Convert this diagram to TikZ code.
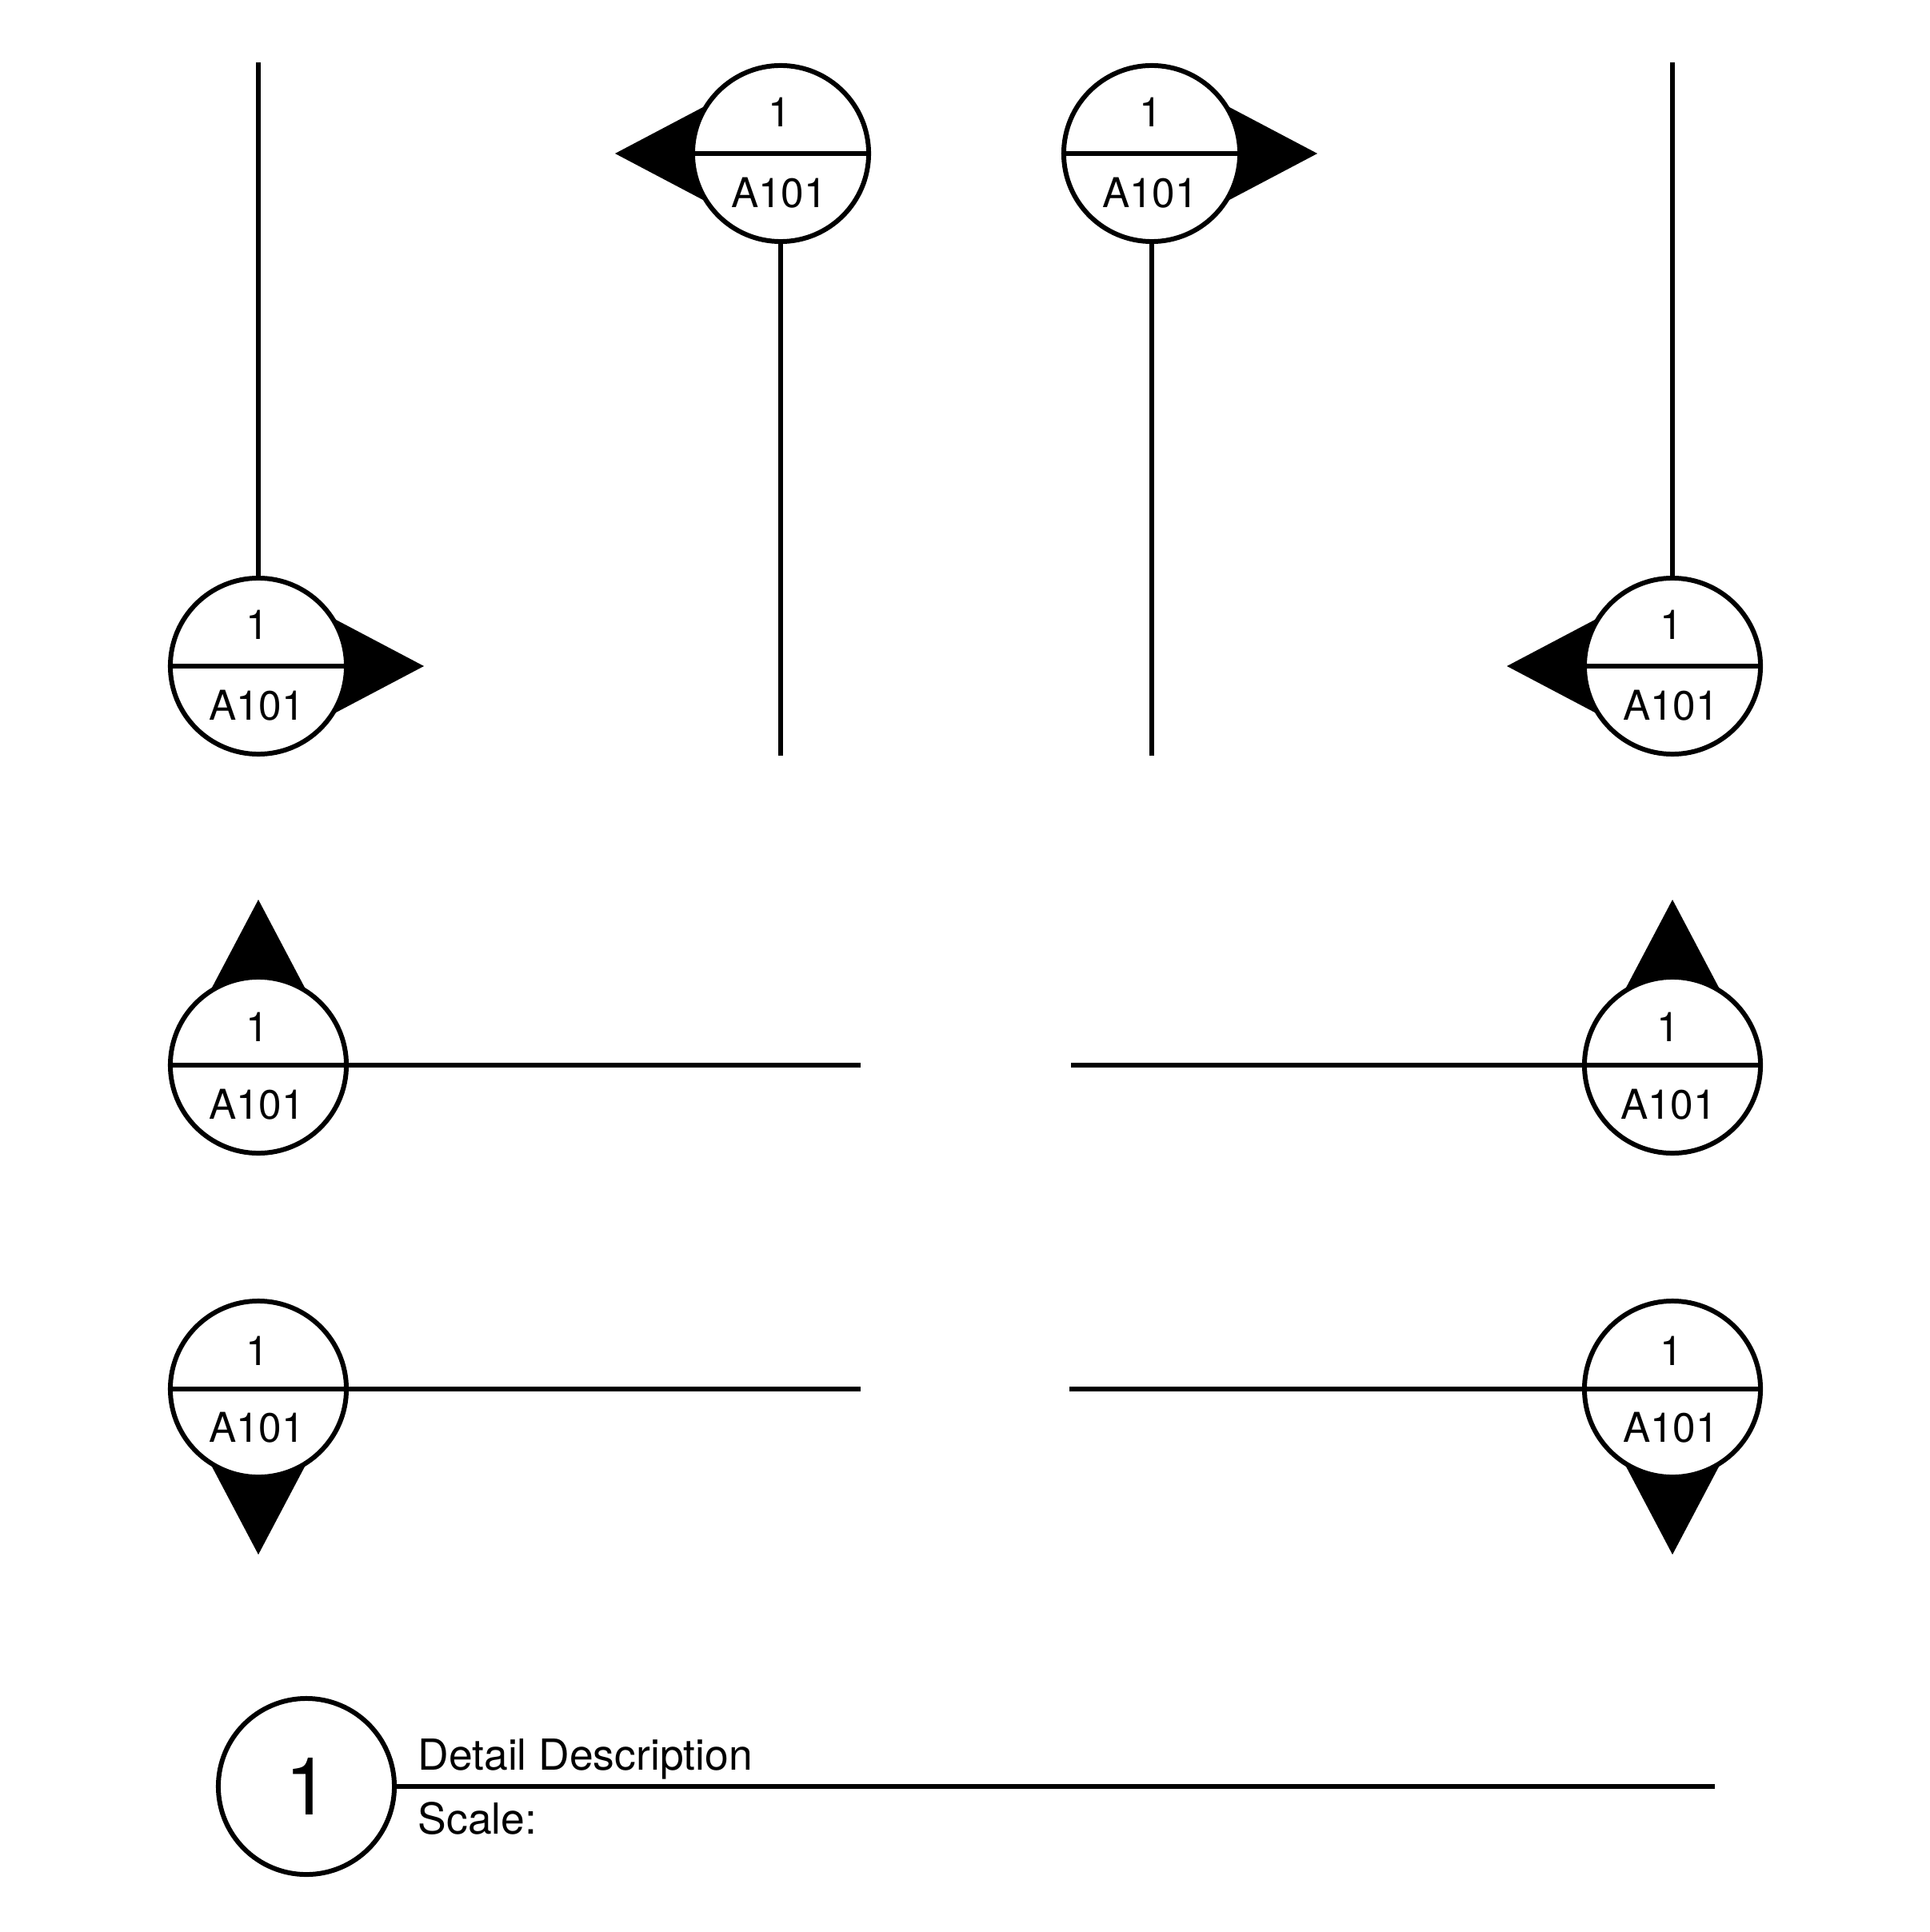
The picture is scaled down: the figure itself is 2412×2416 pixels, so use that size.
\documentclass[tikz,border=0pt]{standalone}
\usepackage{fontspec}
\setmainfont{TeX Gyre Heros}
\usetikzlibrary{positioning,backgrounds}

\begin{document}
\begin{tikzpicture}[x=0.01cm, y=-0.01cm,
    marker/.style={circle, draw, line width=1.7pt, fill=white, minimum size=2.2cm, inner sep=0pt, outer sep=0pt},
    leader/.style={line width=1.7pt},
    pointer/.style={fill=black},
    reftext/.style={font=\fontsize{14.6pt}{16pt}\selectfont, inner sep=0pt},
    titletext/.style={font=\fontsize{15.2pt}{18pt}\selectfont, inner sep=0pt, anchor=base west}
  ]
    \useasboundingbox (0,0) rectangle (2412,2416);

    % Markers
    \node[marker] (mark1) at (323,833) {};
    \node[marker] (mark2) at (976,192) {};
    \node[marker] (mark3) at (1440,192) {};
    \node[marker] (mark4) at (2091,833) {};
    \node[marker] (mark5) at (323,1332) {};
    \node[marker] (mark6) at (2091,1332) {};
    \node[marker] (mark7) at (323,1737) {};
    \node[marker] (mark8) at (2091,1737) {};
    \node[marker] (mark9) at (383,2234) {};

    % Pointers
    \begin{scope}[on background layer]
      \fill[pointer] ([shift={(97,-58)}]mark1.center) -- ([shift={(207,0)}]mark1.center) -- ([shift={(97,58)}]mark1.center) -- cycle;
      \fill[pointer] ([shift={(-97,-58)}]mark2.center) -- ([shift={(-207,0)}]mark2.center) -- ([shift={(-97,58)}]mark2.center) -- cycle;
      \fill[pointer] ([shift={(97,-58)}]mark3.center) -- ([shift={(207,0)}]mark3.center) -- ([shift={(97,58)}]mark3.center) -- cycle;
      \fill[pointer] ([shift={(-97,-58)}]mark4.center) -- ([shift={(-207,0)}]mark4.center) -- ([shift={(-97,58)}]mark4.center) -- cycle;
      \fill[pointer] ([shift={(-58,-97)}]mark5.center) -- ([shift={(0,-207)}]mark5.center) -- ([shift={(58,-97)}]mark5.center) -- cycle;
      \fill[pointer] ([shift={(-58,-97)}]mark6.center) -- ([shift={(0,-207)}]mark6.center) -- ([shift={(58,-97)}]mark6.center) -- cycle;
      \fill[pointer] ([shift={(-58,97)}]mark7.center) -- ([shift={(0,207)}]mark7.center) -- ([shift={(58,97)}]mark7.center) -- cycle;
      \fill[pointer] ([shift={(-58,97)}]mark8.center) -- ([shift={(0,207)}]mark8.center) -- ([shift={(58,97)}]mark8.center) -- cycle;
    \end{scope}

    % Dividers
    \draw[leader] (mark1.west) -- (mark1.east);
    \draw[leader] (mark2.west) -- (mark2.east);
    \draw[leader] (mark3.west) -- (mark3.east);
    \draw[leader] (mark4.west) -- (mark4.east);
    \draw[leader] (mark5.west) -- (mark5.east);
    \draw[leader] (mark6.west) -- (mark6.east);
    \draw[leader] (mark7.west) -- (mark7.east);
    \draw[leader] (mark8.west) -- (mark8.east);

    % Leaders
    \coordinate (end1) at (323,78);
    \coordinate (end2) at (976,945);
    \coordinate (end3) at (1440,945);
    \coordinate (end4) at (2091,78);
    \coordinate (end5) at (1076,1332);
    \coordinate (end6) at (1339,1332);
    \coordinate (end7) at (1076,1737);
    \coordinate (end8) at (1337,1737);
    \coordinate (end9) at (2144,2234);
    \draw[leader] (mark1) -- (end1);
    \draw[leader] (mark2) -- (end2);
    \draw[leader] (mark3) -- (end3);
    \draw[leader] (mark4) -- (end4);
    \draw[leader] (mark5) -- (end5);
    \draw[leader] (mark6) -- (end6);
    \draw[leader] (mark7) -- (end7);
    \draw[leader] (mark8) -- (end8);
    \draw[leader] (mark9) -- (end9);

    % Labels
    \node[reftext] (num1) at ([shift={(-1,-52)}]mark1.center) {1};
    \node[reftext] (sheet1) at ([shift={(-2,49)}]mark1.center) {A101};
    \node[reftext] (num2) at ([shift={(-1,-52)}]mark2.center) {1};
    \node[reftext] (sheet2) at ([shift={(-2,49)}]mark2.center) {A101};
    \node[reftext] (num3) at ([shift={(-1,-52)}]mark3.center) {1};
    \node[reftext] (sheet3) at ([shift={(-2,49)}]mark3.center) {A101};
    \node[reftext] (num4) at ([shift={(-1,-52)}]mark4.center) {1};
    \node[reftext] (sheet4) at ([shift={(-2,49)}]mark4.center) {A101};
    \node[reftext] (num5) at ([shift={(-1,-48)}]mark5.center) {1};
    \node[reftext] (sheet5) at ([shift={(-2,49)}]mark5.center) {A101};
    \node[reftext] (num6) at ([shift={(-5,-48)}]mark6.center) {1};
    \node[reftext] (sheet6) at ([shift={(-5,49)}]mark6.center) {A101};
    \node[reftext] (num7) at ([shift={(-1,-48)}]mark7.center) {1};
    \node[reftext] (sheet7) at ([shift={(-2,48)}]mark7.center) {A101};
    \node[reftext] (num8) at ([shift={(-1,-48)}]mark8.center) {1};
    \node[reftext] (sheet8) at ([shift={(-2,48)}]mark8.center) {A101};

    % Title
    \node[font=\fontsize{28.5pt}{32pt}\selectfont, inner sep=0pt] (num9) at ([shift={(1,0)}]mark9.center) {1};
    \node[titletext] (title) at (522,2213) {Detail Description};
    \node[titletext] (scale) at (522,2293) {Scale:};

\end{tikzpicture}
\end{document}
